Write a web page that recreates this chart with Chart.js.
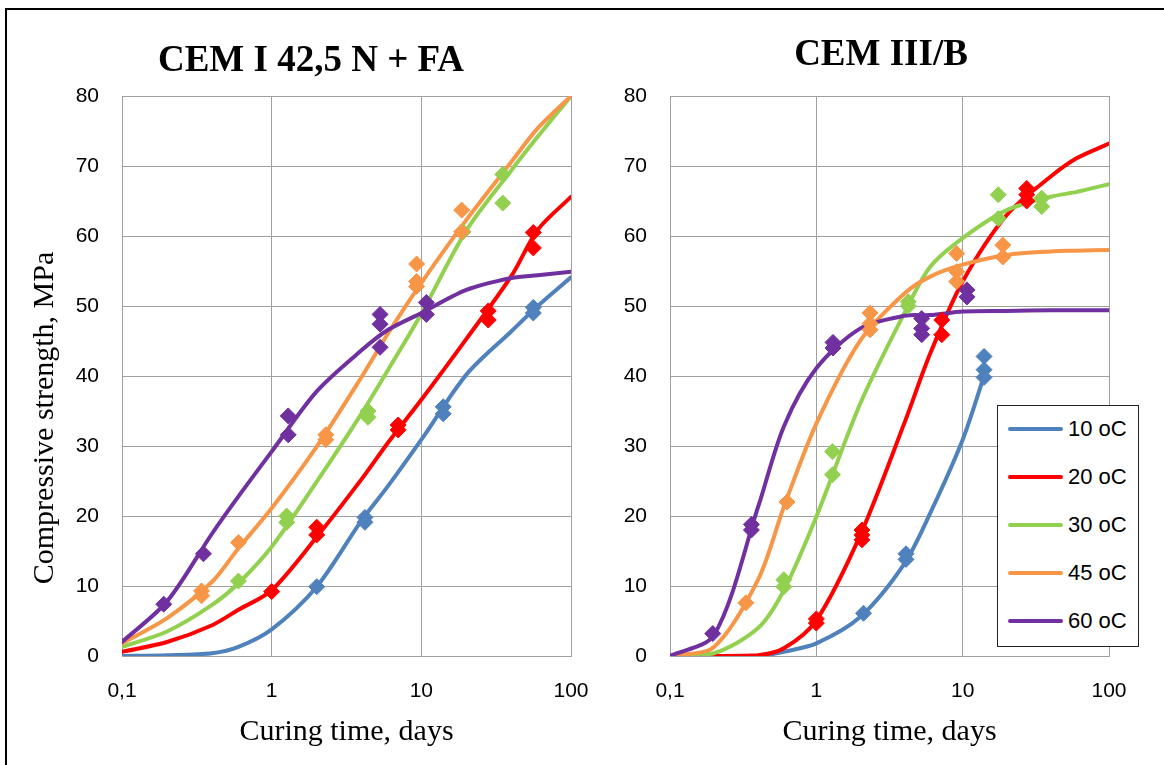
<!DOCTYPE html>
<html>
<head>
<meta charset="utf-8">
<script src="https://cdn.jsdelivr.net/npm/chart.js@4.4.1/dist/chart.umd.min.js"></script>
<style>
html,body{margin:0;padding:0;background:#fff;}
#wrap{position:relative;width:1164px;height:765px;overflow:hidden;background:#fff;}
#frame{position:absolute;left:5px;top:8px;width:1200px;height:800px;border-left:2px solid #000;border-top:2px solid #000;}
canvas{position:absolute;top:0;}
#c1{left:0;}
#c2{left:560px;}
.ctitle{position:absolute;width:500px;height:44px;line-height:44px;text-align:center;white-space:nowrap;
  font-family:'Liberation Serif',serif;font-size:37px;font-weight:bold;color:#000;}
#t1{left:61px;top:37px;}
#t2{left:631px;top:30.5px;}
#ytitle{position:absolute;left:-157px;top:400px;width:400px;height:36px;line-height:36px;text-align:center;
  font-family:'Liberation Serif',serif;font-size:30px;color:#000;transform:rotate(-90deg);white-space:nowrap;}
#legend{position:absolute;left:997px;top:405px;width:142px;height:242px;box-sizing:border-box;border:1.5px solid #222;background:#fff;}
.li{position:absolute;left:0;width:140px;height:24px;}
.ls{position:absolute;left:10px;top:10px;width:55px;height:4px;border-radius:2px;}
.lt{position:absolute;left:70px;top:0;height:24px;line-height:24px;font-family:'Liberation Sans',sans-serif;font-size:22px;color:#000;white-space:nowrap;}
</style>
</head>
<body>
<div id="wrap">
  <div id="frame"></div>
  <canvas id="c1" width="624" height="765"></canvas>
  <canvas id="c2" width="600" height="765"></canvas>
  <div id="t1" class="ctitle">CEM I 42,5 N + FA</div>
  <div id="t2" class="ctitle">CEM III/B</div>
  <div id="ytitle">Compressive strength, MPa</div>
  <div id="legend"></div>
</div>
<script>
// ---------- data ----------
const seriesNames = ['10 oC', '20 oC', '30 oC', '45 oC', '60 oC'];
const seriesColors = ['#4F81BD', '#FF0000', '#92D050', '#F79646', '#7030A0'];
const xTickValues = [0.1, 1, 10, 100];
const xTickLabels = ['0,1', '1', '10', '100'];

// model curve times (days)
const fitTimes = [0.1, 0.2, 0.4, 0.6, 1, 2, 4, 6, 10, 20, 40, 60, 100];
const fitTimesShort = [0.1, 0.2, 0.4, 0.6, 1, 2, 4, 6, 10, 14];

// CEM I 42,5 N + FA : model curves (MPa)
const cem1Fit10 = [0, 0.1, 0.4, 1.3, 3.8, 9.9, 19.4, 24.3, 30.9, 40.2, 46.4, 50.0, 54.1];
const cem1Fit20 = [0.6, 2.0, 4.4, 6.6, 9.4, 17.0, 25.3, 30.5, 36.6, 45.3, 54.3, 60.9, 65.6];
const cem1Fit30 = [1.3, 3.5, 7.3, 10.4, 15.6, 24.9, 34.7, 40.9, 48.9, 60.8, 69.4, 74.2, 80.0];
const cem1Fit45 = [1.8, 5.4, 10.6, 15.4, 21.1, 29.9, 39.9, 46.1, 53.3, 62.3, 70.6, 75.4, 80.0];
const cem1Fit60 = [2.0, 7.8, 17.5, 22.8, 29.2, 37.8, 43.7, 46.6, 49.0, 52.3, 54.0, 54.4, 54.9];

// CEM I 42,5 N + FA : measured points
const cem1T10 = [2.0, 4.2, 4.2, 14, 14, 56, 56];
const cem1V10 = [9.9, 19.8, 19.1, 35.6, 34.6, 49.8, 49.0];
const cem1T20 = [1.0, 2.0, 2.0, 7, 7, 28, 28, 56, 56];
const cem1V20 = [9.2, 18.4, 17.3, 33.0, 32.3, 49.3, 48.0, 60.5, 58.3];
const cem1T30 = [0.6, 1.26, 1.26, 4.4, 4.4, 19, 35, 35];
const cem1V30 = [10.7, 20.0, 19.1, 35.0, 34.1, 60.6, 68.8, 64.7];
const cem1T45 = [0.34, 0.34, 0.6, 2.3, 2.3, 9.3, 9.3, 9.3, 18.6, 18.6];
const cem1V45 = [9.3, 8.6, 16.2, 31.6, 30.9, 56.0, 53.5, 52.8, 63.7, 60.6];
const cem1T60 = [0.19, 0.35, 1.29, 1.29, 5.3, 5.3, 5.3, 10.8, 10.8];
const cem1V60 = [7.4, 14.6, 34.3, 31.6, 48.8, 47.4, 44.1, 50.5, 48.8];

// CEM III/B : model curves (MPa)
const cem3Fit10 = [0, 0, 0, 0.6, 1.8, 5.6, 13.2, 20.4, 30.9, 40.0];
const cem3Fit20 = [0, 0, 0.1, 1.1, 5.1, 17.3, 33.3, 43.2, 53.5, 63.0, 68.5, 71.1, 73.2];
const cem3Fit30 = [0, 0.4, 4.0, 9.4, 19.9, 36.1, 49.0, 55.6, 59.7, 63.7, 65.6, 66.3, 67.4];
const cem3Fit45 = [0, 1.3, 10.9, 21.3, 33.2, 45.1, 51.8, 54.2, 55.9, 57.3, 57.8, 57.9, 58.0];
const cem3Fit60 = [0, 3.0, 21.3, 32.8, 41.1, 46.8, 48.6, 48.7, 49.2, 49.3, 49.4, 49.4, 49.4];

// CEM III/B : measured points
const cem3T10 = [2.1, 4.1, 4.1, 14, 14, 14];
const cem3V10 = [6.1, 14.6, 13.8, 42.8, 40.9, 39.8];
const cem3T20 = [1.0, 1.0, 2.05, 2.05, 2.05, 7.2, 7.2, 27.4, 27.4, 27.4];
const cem3V20 = [5.3, 4.7, 18.0, 17.3, 16.6, 48.0, 45.9, 66.8, 65.9, 65.0];
const cem3T30 = [0.6, 0.6, 1.29, 1.29, 4.25, 4.25, 17.5, 17.5, 34.7, 34.7];
const cem3V30 = [10.9, 9.9, 29.2, 25.9, 50.6, 50.0, 65.9, 62.5, 65.4, 64.2];
const cem3T45 = [0.33, 0.63, 2.33, 2.33, 2.33, 9.1, 9.1, 9.1, 18.8, 18.8];
const cem3V45 = [7.6, 22.0, 49.0, 47.5, 46.6, 57.5, 54.9, 53.5, 58.7, 57.0];
const cem3T60 = [0.196, 0.36, 0.36, 1.3, 1.3, 5.25, 5.25, 5.25, 10.7, 10.7];
const cem3V60 = [3.2, 18.8, 18.0, 44.8, 44.0, 48.2, 46.8, 45.9, 52.3, 51.3];

// ---------- helpers ----------
function pts(t, v) { return t.map((x, i) => ({x: x, y: v[i]})); }
const GRID = '#a0a0a0';
const tickFont = {family: "'Liberation Sans', sans-serif", size: 21};

function build(id, yWidth, padRight, fits, marks) {
  const datasets = [];
  fits.forEach((f, i) => {
    datasets.push({
      type: 'line', label: seriesNames[i], data: pts(f[0], f[1]),
      borderColor: seriesColors[i], backgroundColor: seriesColors[i],
      borderWidth: 4, pointRadius: 0, pointHoverRadius: 0, fill: false,
      tension: 0.3, borderCapStyle: 'round', borderJoinStyle: 'round',
      order: 20 - i
    });
  });
  marks.forEach((m, i) => {
    datasets.push({
      type: 'scatter', label: seriesNames[i] + ' data', data: pts(m[0], m[1]),
      showLine: false, pointStyle: 'rectRot', pointRadius: 8, pointHoverRadius: 8,
      pointBackgroundColor: seriesColors[i], pointBorderColor: seriesColors[i], pointBorderWidth: 1,
      order: 10 - i
    });
  });
  return new Chart(document.getElementById(id), {
    type: 'line',
    data: {datasets: datasets},
    options: {
      responsive: false, animation: false, devicePixelRatio: 1,
      layout: {padding: {left: 0, right: padRight, top: 96, bottom: 0}},
      plugins: {
        legend: {display: false},
        tooltip: {enabled: false},
        title: {display: false}
      },
      scales: {
        x: {
          type: 'logarithmic', position: 'bottom', min: 0.1, max: 100,
          afterBuildTicks: (s) => { s.ticks = xTickValues.map(v => ({value: v})); },
          afterFit: (s) => { s.height = 109; },
          ticks: {
            callback: (v, idx) => xTickLabels[idx], color: '#000', font: tickFont,
            padding: 23, autoSkip: false, maxRotation: 0, minRotation: 0
          },
          grid: {color: GRID, lineWidth: 1, drawTicks: false},
          border: {color: GRID, width: 1},
          title: {
            display: true, text: 'Curing time, days', color: '#000',
            font: {family: "'Liberation Serif', serif", size: 30, lineHeight: 1.2},
            padding: {top: 0, bottom: 15}
          }
        },
        y: {
          type: 'linear', min: 0, max: 80,
          afterFit: (s) => { s.width = yWidth; },
          ticks: {stepSize: 10, color: '#000', font: tickFont, padding: 23},
          grid: {color: GRID, lineWidth: 1, drawTicks: false},
          border: {color: GRID, width: 1}
        }
      }
    }
  });
}

build('c1', 122, 53,
  [[fitTimes, cem1Fit10], [fitTimes, cem1Fit20], [fitTimes, cem1Fit30], [fitTimes, cem1Fit45], [fitTimes, cem1Fit60]],
  [[cem1T10, cem1V10], [cem1T20, cem1V20], [cem1T30, cem1V30], [cem1T45, cem1V45], [cem1T60, cem1V60]]);

build('c2', 110, 51,
  [[fitTimesShort, cem3Fit10], [fitTimes, cem3Fit20], [fitTimes, cem3Fit30], [fitTimes, cem3Fit45], [fitTimes, cem3Fit60]],
  [[cem3T10, cem3V10], [cem3T20, cem3V20], [cem3T30, cem3V30], [cem3T45, cem3V45], [cem3T60, cem3V60]]);

// ---------- legend ----------
const lg = document.getElementById('legend');
seriesNames.forEach((name, i) => {
  const row = document.createElement('div');
  row.className = 'li';
  row.style.top = (24 + 48 * i - 12 - 1.5) + 'px';
  const sw = document.createElement('div');
  sw.className = 'ls';
  sw.style.background = seriesColors[i];
  const tx = document.createElement('div');
  tx.className = 'lt';
  tx.textContent = name;
  row.appendChild(sw); row.appendChild(tx);
  lg.appendChild(row);
});
</script>
</body>
</html>
